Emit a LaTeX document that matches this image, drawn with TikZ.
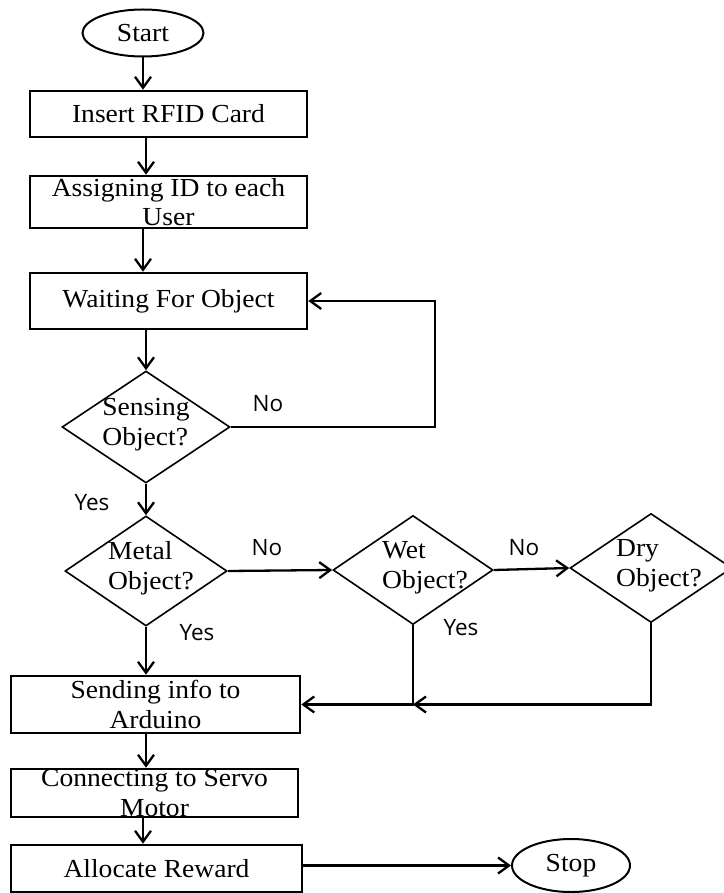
\documentclass[tikz,border=0pt]{standalone}
\usepackage{fontspec}
\setmainfont[FakeStretch=1.06]{Liberation Serif}
\newfontfamily\answerfont{Open Sans}
\usetikzlibrary{
  arrows.meta,
  shapes.geometric
}
\newcommand{\boxfont}{\fontsize{26}{29.5}\selectfont}
\newcommand{\query}[3][0pt]{%
  \smash{\raisebox{-4pt}{\makebox[0pt]{\hspace*{#1}%
  \begin{tabular}{@{}l@{}}#2\\#3\end{tabular}}}}}
\tikzset{
  terminal/.style={
    ellipse,
    draw=black,
    line width=2pt,
    inner sep=0pt,
    font=\boxfont
  },
  process/.style={
    rectangle,
    draw=black,
    line width=2.6pt,
    inner xsep=4pt,
    inner ysep=1pt,
    align=center,
    font=\boxfont
  },
  decision/.style={
    diamond,
    draw=black,
    line width=1.6pt,
    inner sep=0pt,
    font=\boxfont
  },
  flow/.style={
    -{Straight Barb[length=11pt,width=16pt]},
    line width=2.3pt
  },
  answer/.style={
    inner sep=0pt,
    font=\answerfont\fontsize{22.5}{26}\selectfont
  }
}

\begin{document}
\begin{tikzpicture}[x=1pt,y=-1pt]
  \useasboundingbox (0,0) rectangle (723,893);

  \node[terminal, minimum width=121pt, minimum height=47pt] (start)
    at (143,33) {Start};
  \node[process, minimum width=277pt, minimum height=46pt] (insert)
    at (168.5,114) {Insert RFID Card};
  \node[process, minimum width=277pt, minimum height=52pt] (assign)
    at (168.5,202) {Assigning ID to each\\User};
  \node[process, minimum width=277pt, minimum height=56pt] (wait)
    at (168.5,301) {Waiting For Object};

  \node[decision, minimum width=168pt, minimum height=112pt] (sense)
    at (146,427) {\query{Sensing}{Object?}};
  \node[decision, minimum width=162pt, minimum height=110pt] (metal)
    at (146,571) {\query[10pt]{Metal}{Object?}};
  \node[decision, minimum width=160pt, minimum height=109pt] (wet)
    at (413,570) {\query[24pt]{Wet}{Object?}};
  \node[decision, minimum width=162pt, minimum height=109pt] (dry)
    at (651,568) {\query[16pt]{Dry}{Object?}};

  \node[process, minimum width=289pt, minimum height=57pt] (send)
    at (155.5,704.5) {Sending info to\\Arduino};
  \node[process, minimum width=287pt, minimum height=48pt, inner ysep=0pt] (connect)
    at (154.5,793) {Connecting to Servo\\Motor};
  \node[process, minimum width=291pt, minimum height=47pt] (allocate)
    at (156.5,868.5) {Allocate Reward};
  \node[terminal, minimum width=118pt, minimum height=53pt] (stop)
    at (571,865.5) {Stop};

  % branch labels
  \node[answer] (senseno) at (268,404) {No};
  \node[answer] (senseyes) at (92,503) {Yes};
  \node[answer] (metalno) at (267,548) {No};
  \node[answer] (metalyes) at (197,633) {Yes};
  \node[answer] (wetno) at (524,548) {No};
  \node[answer] (wetyes) at (461,628) {Yes};

  \coordinate (loopcorner) at (435,301);
  \coordinate (merge) at (wet.south |- send.east);

  \draw[flow] (start.south) -- (start.south |- insert.north);
  \draw[flow] (insert.south -| sense) -- (assign.north -| sense);
  \draw[flow] (assign.south -| start) -- (wait.north -| start);
  \draw[flow] (wait.south -| sense) -- (sense.north);
  \draw[flow] (sense.east) -| (loopcorner) -- (wait.east);
  \draw[flow] (sense.south) -- (metal.north);
  \draw[flow] (metal.east) -- (wet.west);
  \draw[flow] (wet.east) -- (dry.west);
  \draw[flow] (metal.south) -- (send.north -| metal);
  \draw[flow] (wet.south) |- (send.east);
  \draw[flow] (dry.south) |- (merge);
  \draw[flow] (send.south -| sense) -- (connect.north -| sense);
  \draw[flow] (connect.south -| start) -- (allocate.north -| start);
  \draw[flow] (allocate.east |- stop.west) -- (stop.west);
\end{tikzpicture}
\end{document}
